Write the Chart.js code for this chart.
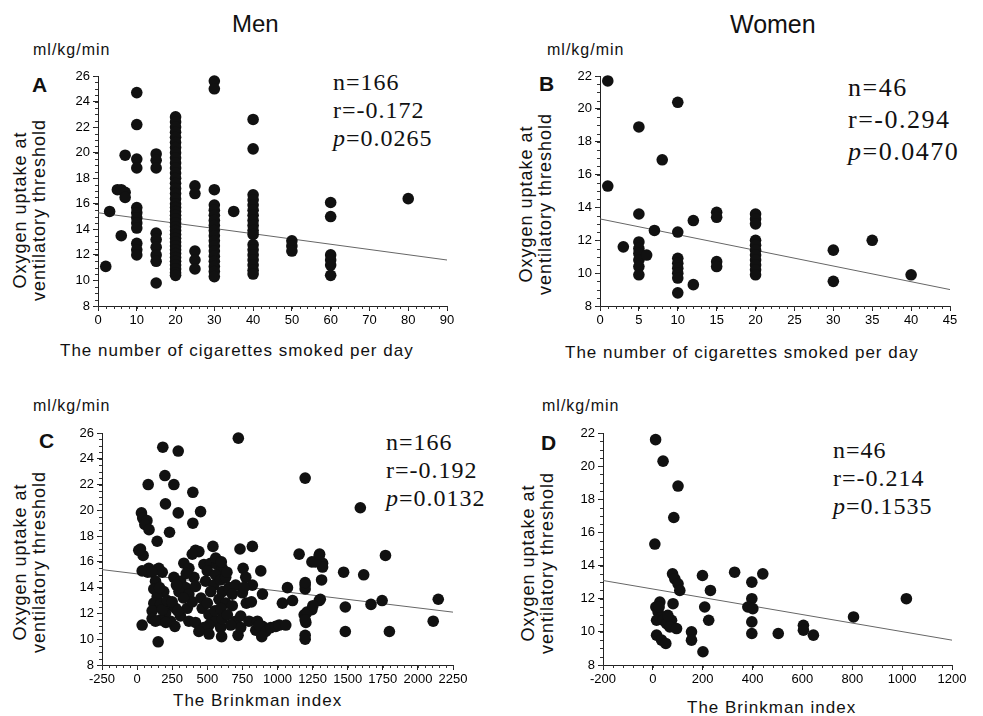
<!DOCTYPE html>
<html>
<head>
<meta charset="utf-8">
<script src="https://cdn.jsdelivr.net/npm/chart.js@4.4.1/dist/chart.umd.min.js"></script>
<style>
  body { margin: 0; background: #fff; width: 983px; height: 716px; position: relative; overflow: hidden; }
  .box { position: absolute; }
  .t { position: absolute; white-space: nowrap; color: #111; font-family: "Liberation Sans", Arial, sans-serif; }
  .stat { font-family: "Liberation Serif", "Times New Roman", serif; color: #111; }
  .ytitle { text-align: center; transform: rotate(-90deg); font-size: 18px; line-height: 19px; letter-spacing: 1px; width: 220px; height: 38px; }
  .xtitle { font-size: 17px; letter-spacing: 1px; line-height: 17px; }
  .unit { font-size: 16px; letter-spacing: 1px; line-height: 16px; }
  .lab { font-size: 21px; font-weight: bold; line-height: 21px; }
</style>
</head>
<body>

<div class="t" style="left:232px;top:12px;font-size:24px;line-height:24px;">Men</div>
<div class="t" style="left:730px;top:12px;font-size:25px;line-height:25px;">Women</div>

<div class="t unit" style="left:33px;top:42px;">ml/kg/min</div>
<div class="t unit" style="left:547px;top:42px;">ml/kg/min</div>
<div class="t unit" style="left:33px;top:398px;">ml/kg/min</div>
<div class="t unit" style="left:542px;top:398px;">ml/kg/min</div>

<div class="t lab" style="left:32px;top:74px;">A</div>
<div class="t lab" style="left:539px;top:73px;">B</div>
<div class="t lab" style="left:39px;top:430px;">C</div>
<div class="t lab" style="left:541px;top:432px;">D</div>

<div class="t ytitle" style="left:-80px;top:191px;">Oxygen uptake at<br>ventilatory threshold</div>
<div class="t ytitle" style="left:426px;top:185px;">Oxygen uptake at<br>ventilatory threshold</div>
<div class="t ytitle" style="left:-80px;top:543px;">Oxygen uptake at<br>ventilatory threshold</div>
<div class="t ytitle" style="left:428px;top:544px;">Oxygen uptake at<br>ventilatory threshold</div>

<div class="t xtitle" style="left:60px;top:342px;">The number of cigarettes smoked per day</div>
<div class="t xtitle" style="left:565px;top:344px;">The number of cigarettes smoked per day</div>
<div class="t xtitle" style="left:173px;top:692px;">The Brinkman index</div>
<div class="t xtitle" style="left:687px;top:699px;">The Brinkman index</div>

<div class="t stat" style="left:333px;top:68px;font-size:24px;line-height:28px;letter-spacing:1px;">n=166<br>r=-0.172<br><i>p</i>=0.0265</div>
<div class="t stat" style="left:848px;top:72px;font-size:26px;line-height:32px;letter-spacing:1.5px;">n=46<br>r=-0.294<br><i>p</i>=0.0470</div>
<div class="t stat" style="left:386px;top:428px;font-size:24px;line-height:28px;letter-spacing:1px;">n=166<br>r=-0.192<br><i>p</i>=0.0132</div>
<div class="t stat" style="left:833px;top:436px;font-size:24px;line-height:28px;letter-spacing:1px;">n=46<br>r=-0.214<br><i>p</i>=0.1535</div>

<div class="box" style="left:58px;top:56px;width:419px;height:280px;"><canvas id="chartA"></canvas></div>
<div class="box" style="left:560px;top:56px;width:420px;height:280px;"><canvas id="chartB"></canvas></div>
<div class="box" style="left:62px;top:413px;width:421px;height:282px;"><canvas id="chartC"></canvas></div>
<div class="box" style="left:563px;top:413px;width:419px;height:282px;"><canvas id="chartD"></canvas></div>

<script>
// ---- data ----

// A: men, cigarettes per day vs VO2 at VT
var menCigPoints = [
    [2, 11.1], [3, 15.4], [5, 17.1], [6, 17.1], [7, 16.9], [7, 16.5], [6, 13.5], [7, 19.8],
    [10, 24.7], [10, 22.2], [10, 19.5], [10, 18.8], [10, 15.7], [10, 15.3], [10, 14.9], [10, 14.5],
    [10, 14.1], [10, 12.9], [10, 12.4], [10, 12.0],
    [15, 19.9], [15, 19.4], [15, 18.8], [15, 13.7], [15, 13.2], [15, 12.6], [15, 12.0], [15, 11.5], [15, 9.8],
    [20, 22.8], [20, 22.4], [20, 22.0], [20, 21.6], [20, 21.2], [20, 20.8], [20, 20.4], [20, 20.0],
    [20, 19.6], [20, 19.2], [20, 18.8], [20, 18.4], [20, 18.0], [20, 17.6], [20, 17.2], [20, 16.8],
    [20, 16.4], [20, 16.0], [20, 15.7], [20, 15.4], [20, 15.1], [20, 14.8], [20, 14.5], [20, 14.2],
    [20, 13.9], [20, 13.6], [20, 13.3], [20, 13.0], [20, 12.7], [20, 12.4], [20, 12.1], [20, 11.8],
    [20, 11.5], [20, 11.2], [20, 10.9], [20, 10.6], [20, 10.4],
    [25, 17.4], [25, 16.8], [25, 12.3], [25, 11.6], [25, 10.9],
    [30, 25.6], [30, 25.0], [30, 17.1], [30, 15.9], [30, 15.5], [30, 15.1], [30, 14.7], [30, 14.3],
    [30, 13.9], [30, 13.5], [30, 13.1], [30, 12.7], [30, 12.3], [30, 11.9], [30, 11.5], [30, 11.1],
    [30, 10.7], [30, 10.3],
    [35, 15.4],
    [40, 22.6], [40, 20.3], [40, 16.7], [40, 16.3], [40, 15.9], [40, 15.5], [40, 15.1], [40, 14.7],
    [40, 14.3], [40, 13.9], [40, 13.6], [40, 12.8], [40, 12.4], [40, 12.0], [40, 11.6], [40, 11.2],
    [40, 10.8], [40, 10.5],
    [50, 13.1], [50, 12.7], [50, 12.3],
    [60, 16.1], [60, 15.0], [60, 12.0], [60, 11.6], [60, 11.2], [60, 10.4],
    [80, 16.4]
];
var menCigLine = [[0, 15.3], [90, 11.6]];

// B: women, cigarettes per day
var womenCigPoints = [
    [1, 21.7], [1, 15.3], [3, 11.6],
    [5, 18.9], [5, 13.6], [5, 11.9], [5, 11.5], [5, 11.2], [5, 10.8], [5, 10.4], [5, 9.9],
    [6, 11.1], [7, 12.6], [8, 16.9],
    [10, 20.4], [10, 12.5], [10, 10.9], [10, 10.6], [10, 10.3], [10, 10.0], [10, 9.7], [10, 8.8],
    [12, 13.2], [12, 9.3],
    [15, 13.7], [15, 13.4], [15, 10.7], [15, 10.4],
    [20, 13.6], [20, 13.3], [20, 13.0], [20, 12.0], [20, 11.7], [20, 11.4], [20, 11.1], [20, 10.8],
    [20, 10.5], [20, 10.2], [20, 9.9],
    [30, 11.4], [30, 9.5], [35, 12.0], [40, 9.9]
];
var womenCigLine = [[0, 13.3], [45, 9.0]];

// C: men, Brinkman index
var menBrinkPoints = [
    [721, 25.6], [183, 24.9], [293, 24.6], [1197, 22.5], [79, 22.0], [198, 22.7], [262, 22.0],
    [397, 21.4], [202, 20.5], [293, 19.8], [452, 19.9], [397, 19.0], [31, 19.8], [40, 19.4],
    [70, 19.2], [55, 18.9], [85, 18.5], [231, 18.3], [143, 17.6], [1590, 20.2],
    [24, 17.0], [43, 16.5], [12, 16.9], [540, 17.2], [733, 17.0], [821, 17.2], [416, 16.9],
    [440, 16.8], [393, 16.6], [1154, 16.6], [1245, 16.0], [1297, 16.5], [1321, 15.9], [1321, 15.6],
    [1314, 14.6], [1769, 16.5], [1471, 15.2], [1614, 15.0],
    [76, 15.2], [143, 15.4], [179, 15.2], [83, 15.5], [155, 15.5], [36, 15.3], [107, 15.2],
    [131, 14.5], [119, 13.9], [190, 13.7], [143, 13.3], [119, 12.8], [167, 12.7], [238, 12.6],
    [107, 12.2], [202, 12.0], [274, 12.4], [309, 11.8], [357, 12.4], [369, 11.4], [416, 11.3],
    [238, 11.4], [167, 11.5], [269, 11.0], [36, 11.1], [150, 9.8], [107, 11.6], [131, 11.4],
    [180, 12.3], [215, 13.0], [160, 14.0], [250, 12.9], [205, 11.3], [290, 12.2],
    [262, 14.8], [309, 14.5], [345, 14.0], [298, 13.7], [369, 13.5], [393, 12.9], [333, 15.9],
    [369, 15.5], [405, 14.8], [416, 14.1], [464, 12.4], [512, 11.9], [559, 11.4], [512, 11.1],
    [476, 10.9], [595, 10.9], [607, 11.6], [440, 10.6], [512, 10.4], [602, 10.2], [330, 13.2],
    [280, 14.2], [350, 15.1],
    [476, 15.8], [524, 15.9], [571, 15.8], [607, 15.5], [500, 15.3], [559, 15.0], [488, 14.5],
    [547, 14.2], [595, 14.6], [631, 14.8], [524, 13.7], [607, 13.7], [654, 14.0], [583, 13.1],
    [631, 12.8], [678, 12.6], [702, 14.2], [678, 13.5], [555, 12.2], [595, 12.4], [643, 11.9],
    [560, 16.3], [600, 16.0], [640, 15.2], [455, 13.2], [500, 12.8],
    [719, 10.3], [702, 11.4], [738, 10.9], [666, 11.1], [738, 11.8], [797, 11.4], [857, 11.4],
    [893, 11.0], [845, 10.7], [869, 11.1], [916, 10.6], [888, 10.2], [952, 10.9], [988, 11.0],
    [1012, 11.1], [1059, 11.1], [778, 12.8], [814, 12.9], [750, 13.6], [893, 13.5], [881, 15.3],
    [755, 15.5], [774, 14.8], [821, 14.2], [760, 14.0], [1035, 12.8], [1071, 14.0], [1107, 13.0],
    [1190, 11.9], [1245, 12.3], [1202, 11.3], [1197, 10.0], [1197, 14.2], [1197, 13.9], [1297, 13.0],
    [1305, 13.1], [1197, 14.4], [1210, 12.1], [1252, 12.6], [1197, 11.5], [1197, 10.3],
    [1483, 12.5], [1666, 12.7], [1745, 13.0], [1483, 10.6], [1797, 10.6], [2109, 11.4], [2145, 13.1],
    [1269, 16.0], [1300, 16.6]
];
var menBrinkLine = [[-250, 15.4], [2250, 12.1]];

// D: women, Brinkman index
var womenBrinkPoints = [
    [11, 21.6], [41, 20.3], [101, 18.8], [84, 16.9], [8, 15.3], [79, 13.5], [88, 13.2], [101, 12.9],
    [108, 12.5], [81, 11.7], [28, 11.8], [12, 11.5], [21, 11.2], [35, 10.9], [15, 10.7], [41, 10.7],
    [55, 10.5], [75, 10.7], [68, 10.3], [95, 10.2], [15, 9.8], [35, 9.5], [52, 9.3], [155, 10.0],
    [155, 9.5], [201, 8.8], [199, 13.4], [208, 11.5], [231, 12.5], [224, 10.7], [328, 13.6],
    [397, 13.0], [397, 12.0], [381, 11.5], [401, 11.4], [397, 10.6], [397, 9.9], [441, 13.5],
    [503, 9.9], [604, 10.4], [604, 10.1], [644, 9.8], [805, 10.9], [1017, 12.0], [25, 11.5], [60, 11.0]
];
var womenBrinkLine = [[-200, 13.1], [1200, 9.5]];

// ---- charts ----
var tickFont = { family: 'Liberation Sans', size: 13 };

function toXY(list) {
    return list.map(function (p) { return { x: p[0], y: p[1] }; });
}

// small ticks between the labelled ones, placed through the scales
var minorTicks = {
    id: 'minorTicks',
    afterDraw: function (chart, args, opts) {
        var ctx = chart.ctx;
        ctx.save();
        ctx.strokeStyle = '#333';
        ctx.lineWidth = 1;
        ctx.beginPath();
        var xs = chart.scales.x, ys = chart.scales.y;
        var dx = opts.xStep / opts.xDiv;
        for (var v = xs.min; v <= xs.max + 1e-9; v += dx) {
            var px = Math.round(xs.getPixelForValue(v)) + 0.5;
            ctx.moveTo(px, ys.bottom);
            ctx.lineTo(px, ys.bottom + 3);
        }
        var dy = 2 / opts.yDiv;
        for (var w = ys.min; w <= ys.max + 1e-9; w += dy) {
            var py = Math.round(ys.getPixelForValue(w)) + 0.5;
            ctx.moveTo(xs.left, py);
            ctx.lineTo(xs.left - 3, py);
        }
        ctx.stroke();
        ctx.restore();
    }
};

function makePanel(id, points, line, xMin, xMax, xStep, yMin, yMax) {
    var ctx = document.getElementById(id).getContext('2d');
    return new Chart(ctx, {
        type: 'scatter',
        data: {
            datasets: [
                {
                    data: toXY(points),
                    pointRadius: 5.8,
                    pointBackgroundColor: '#111',
                    pointBorderWidth: 0,
                    clip: false,
                    order: 0
                },
                {
                    type: 'line',
                    data: toXY(line),
                    borderColor: '#666',
                    borderWidth: 1,
                    pointRadius: 0,
                    fill: false,
                    order: 1
                }
            ]
        },
        plugins: [minorTicks],
        options: {
            responsive: true,
            maintainAspectRatio: false,
            animation: false,
            devicePixelRatio: 1,
            layout: { padding: { top: 20, right: 30, left: 0, bottom: 0 } },
            plugins: {
                legend: { display: false },
                tooltip: { enabled: false },
                minorTicks: { xStep: xStep, xDiv: 5, yDiv: 4 }
            },
            scales: {
                x: {
                    type: 'linear',
                    min: xMin, max: xMax,
                    ticks: {
                        stepSize: xStep, autoSkip: false, maxRotation: 0, font: tickFont, color: '#000', padding: 2,
                        callback: function (v) { return String(v); }
                    },
                    grid: { drawOnChartArea: false, tickLength: 5, color: '#222' },
                    border: { color: '#222', width: 1 },
                    afterFit: function (s) { s.height = 30; }
                },
                y: {
                    type: 'linear',
                    min: yMin, max: yMax,
                    ticks: { stepSize: 2, font: tickFont, color: '#000', padding: 3 },
                    grid: { drawOnChartArea: false, tickLength: 5, color: '#222' },
                    border: { color: '#222', width: 1 },
                    afterFit: function (s) { s.width = 40; }
                }
            }
        }
    });
}

makePanel('chartA', menCigPoints, menCigLine, 0, 90, 10, 8, 26);
makePanel('chartB', womenCigPoints, womenCigLine, 0, 45, 5, 8, 22);
makePanel('chartC', menBrinkPoints, menBrinkLine, -250, 2250, 250, 8, 26);
makePanel('chartD', womenBrinkPoints, womenBrinkLine, -200, 1200, 200, 8, 22);
</script>
</body>
</html>
